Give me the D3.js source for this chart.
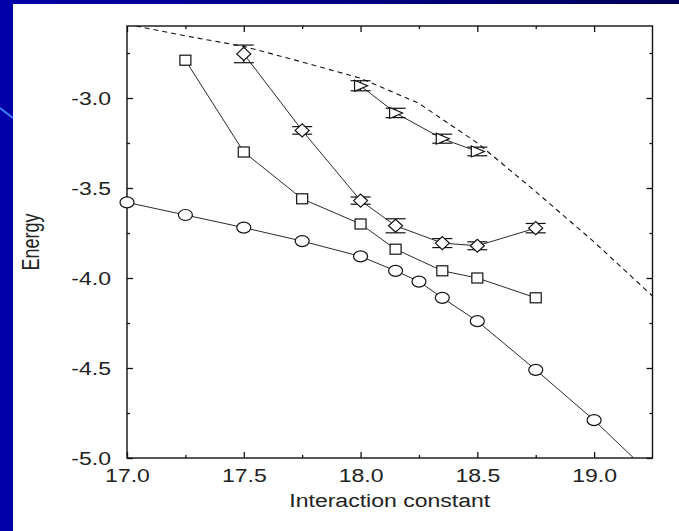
<!DOCTYPE html>
<html>
<head>
<meta charset="utf-8">
<script src="https://cdn.jsdelivr.net/npm/d3@7"></script>
<style>
    body { margin: 0; background: #ffffff; }
    text { font-family: "Liberation Sans", Arial, sans-serif; fill: #222; }
</style>
</head>
<body>
<script>
// circles (lowest curve)
var circleX = [17.0, 17.25, 17.5, 17.75, 18.0, 18.15, 18.25, 18.35, 18.5, 18.75, 19.0, 19.25];
var circleY = [-3.58, -3.65, -3.72, -3.795, -3.88, -3.96, -4.02, -4.11, -4.24, -4.51, -4.79, -5.10];

// squares
var squareX = [17.25, 17.5, 17.75, 18.0, 18.15, 18.35, 18.5, 18.75];
var squareY = [-2.79, -3.30, -3.56, -3.70, -3.84, -3.96, -4.00, -4.11];

// diamonds with error bars
var diamondX = [17.5, 17.75, 18.0, 18.15, 18.35, 18.5, 18.75];
var diamondY = [-2.755, -3.18, -3.57, -3.71, -3.806, -3.821, -3.723];
var diamondErr = [0.049, 0.021, 0.02, 0.039, 0.025, 0.022, 0.026];

// triangles with error bars
var triangleX = [18.0, 18.15, 18.35, 18.5];
var triangleY = [-2.932, -3.083, -3.226, -3.297];
var triangleErr = [0.028, 0.026, 0.025, 0.024];

// dashed curve
var dashX = [17.0, 17.25, 17.5, 17.75, 18.0, 18.25, 18.5, 18.75, 19.0, 19.25];
var dashY = [-2.59, -2.655, -2.713, -2.80, -2.89, -3.03, -3.25, -3.52, -3.80, -4.10];

var xTicks = [17.0, 17.5, 18.0, 18.5, 19.0];
var xMinor = [17.25, 17.75, 18.25, 18.75];
var yTicks = [-5.0, -4.5, -4.0, -3.5, -3.0];
var yMinor = [-4.75, -4.25, -3.75, -3.25, -2.75];

var width = 679;
var height = 531;
var stretch = 1.28;   // the original slide is stretched sideways

var svg = d3.select("body")
    .append("svg")
    .attr("width", width)
    .attr("height", height);

// slide background
var grad = svg.append("defs").append("linearGradient")
    .attr("id", "topband")
    .attr("x1", "0").attr("x2", "1").attr("y1", "0").attr("y2", "0");
grad.append("stop").attr("offset", "0").attr("stop-color", "#0000a8");
grad.append("stop").attr("offset", "1").attr("stop-color", "#00005a");

svg.append("rect").attr("width", width).attr("height", height).attr("fill", "#ffffff");
svg.append("rect").attr("width", width).attr("height", 4).attr("fill", "url(#topband)");
svg.append("rect").attr("width", 13).attr("height", height).attr("fill", "#0000aa");
svg.append("line")
    .attr("x1", 0).attr("y1", 108).attr("x2", 13).attr("y2", 118)
    .attr("stroke", "#3d7dff").attr("stroke-width", 2);

var plotLeft = 127, plotRight = 652.5, plotTop = 26, plotBottom = 458;

var x = d3.scaleLinear().domain([17.0, 19.25]).range([plotLeft, plotRight]);
var y = d3.scaleLinear().domain([-5.0, -2.6]).range([plotBottom, plotTop]);

// plain hyphen instead of d3's unicode minus
var fmt = function(d) { return d.toFixed(1); };

svg.append("clipPath").attr("id", "plot")
    .append("rect")
    .attr("x", plotLeft).attr("y", plotTop)
    .attr("width", plotRight - plotLeft).attr("height", plotBottom - plotTop);

// axes, ticks pointing inward on all four sides
function styleAxis(g) {
    g.select(".domain").remove();
    g.selectAll("line").attr("stroke", "#111").attr("stroke-width", 1.3);
}

var bottomAxis = svg.append("g")
    .attr("transform", "translate(0," + plotBottom + ")")
    .call(d3.axisBottom(x).tickValues(xTicks).tickSize(-6).tickSizeOuter(0).tickFormat(fmt))
    .call(styleAxis);
bottomAxis.selectAll("text")
    .attr("y", 11)
    .attr("fill", "#222")
    .style("font-size", "18px")
    .attr("transform", "scale(" + stretch + ",1)");

svg.append("g")
    .attr("transform", "translate(0," + plotBottom + ")")
    .call(d3.axisBottom(x).tickValues(xMinor).tickSize(-3).tickFormat(""))
    .call(styleAxis);

var leftAxis = svg.append("g")
    .attr("transform", "translate(" + plotLeft + ",0)")
    .call(d3.axisLeft(y).tickValues(yTicks).tickSize(-6).tickSizeOuter(0).tickFormat(fmt))
    .call(styleAxis);
leftAxis.selectAll("text")
    .attr("x", -16 / stretch)
    .attr("dy", "0.36em")
    .attr("fill", "#222")
    .style("font-size", "18px")
    .attr("transform", "scale(" + stretch + ",1)");

svg.append("g")
    .attr("transform", "translate(" + plotLeft + ",0)")
    .call(d3.axisLeft(y).tickValues(yMinor).tickSize(-3).tickFormat(""))
    .call(styleAxis);

svg.append("g")
    .attr("transform", "translate(0," + plotTop + ")")
    .call(d3.axisTop(x).tickValues(xTicks).tickSize(-6).tickFormat(""))
    .call(styleAxis);
svg.append("g")
    .attr("transform", "translate(0," + plotTop + ")")
    .call(d3.axisTop(x).tickValues(xMinor).tickSize(-3).tickFormat(""))
    .call(styleAxis);
svg.append("g")
    .attr("transform", "translate(" + plotRight + ",0)")
    .call(d3.axisRight(y).tickValues(yTicks).tickSize(-6).tickFormat(""))
    .call(styleAxis);
svg.append("g")
    .attr("transform", "translate(" + plotRight + ",0)")
    .call(d3.axisRight(y).tickValues(yMinor).tickSize(-3).tickFormat(""))
    .call(styleAxis);

// frame
svg.append("rect")
    .attr("x", plotLeft).attr("y", plotTop)
    .attr("width", plotRight - plotLeft).attr("height", plotBottom - plotTop)
    .attr("fill", "none")
    .attr("stroke", "#111")
    .attr("stroke-width", 1.4);

// axis titles
svg.append("text")
    .attr("transform", "translate(" + (plotLeft + plotRight) / 2 + ",507) scale(" + stretch + ",1)")
    .attr("text-anchor", "middle")
    .style("font-size", "18px")
    .text("Interaction constant");

svg.append("text")
    .attr("transform", "translate(38.5," + (plotTop + plotBottom) / 2 + ") scale(" + stretch + ",1) rotate(-90)")
    .attr("text-anchor", "middle")
    .style("font-size", "18px")
    .text("Energy");

// data
function zip(xs, ys, es) {
    return xs.map(function(d, i) {
        return {x: d, y: ys[i], e: es ? es[i] : 0};
    });
}

var circles = zip(circleX, circleY);
var squares = zip(squareX, squareY);
var diamonds = zip(diamondX, diamondY, diamondErr);
var triangles = zip(triangleX, triangleY, triangleErr);
var dashed = zip(dashX, dashY);

var line = d3.line()
    .x(function(d) { return x(d.x); })
    .y(function(d) { return y(d.y); });

var plot = svg.append("g").attr("clip-path", "url(#plot)");

plot.append("path")
    .attr("d", line(dashed))
    .attr("fill", "none")
    .attr("stroke", "#111")
    .attr("stroke-width", 1.1)
    .attr("stroke-dasharray", "5,4");

[circles, squares, diamonds, triangles].forEach(function(series) {
    plot.append("path")
        .attr("d", line(series))
        .attr("fill", "none")
        .attr("stroke", "#2a2a2a")
        .attr("stroke-width", 1);
});

// error bars
function errorBars(series) {
    var g = svg.append("g").attr("stroke", "#111").attr("stroke-width", 1.2);
    series.forEach(function(d) {
        var cx = x(d.x);
        var y1 = y(d.y + d.e), y2 = y(d.y - d.e);
        g.append("line").attr("x1", cx).attr("x2", cx).attr("y1", y1).attr("y2", y2);
        g.append("line").attr("x1", cx - 10).attr("x2", cx + 10).attr("y1", y1).attr("y2", y1);
        g.append("line").attr("x1", cx - 10).attr("x2", cx + 10).attr("y1", y2).attr("y2", y2);
    });
}
errorBars(diamonds);
errorBars(triangles);

// markers
var markers = svg.append("g")
    .attr("fill", "#ffffff")
    .attr("stroke", "#111")
    .attr("stroke-width", 1.2);

markers.selectAll(".circ")
    .data(circles.filter(function(d) { return d.y >= -5.0; }))
    .enter()
    .append("ellipse")
    .attr("cx", function(d) { return x(d.x); })
    .attr("cy", function(d) { return y(d.y); })
    .attr("rx", 7)
    .attr("ry", 5.5);

markers.selectAll(".sq")
    .data(squares)
    .enter()
    .append("rect")
    .attr("x", function(d) { return x(d.x) - 5.5; })
    .attr("y", function(d) { return y(d.y) - 5; })
    .attr("width", 11)
    .attr("height", 10);

markers.selectAll(".dia")
    .data(diamonds)
    .enter()
    .append("path")
    .attr("transform", function(d) { return "translate(" + x(d.x) + "," + y(d.y) + ")"; })
    .attr("d", "M-7,0L0,-6.5L7,0L0,6.5Z");

markers.selectAll(".tri")
    .data(triangles)
    .enter()
    .append("path")
    .attr("transform", function(d) { return "translate(" + x(d.x) + "," + y(d.y) + ")"; })
    .attr("d", "M-6,-5.5L7,0L-6,5.5Z");
</script>
</body>
</html>
